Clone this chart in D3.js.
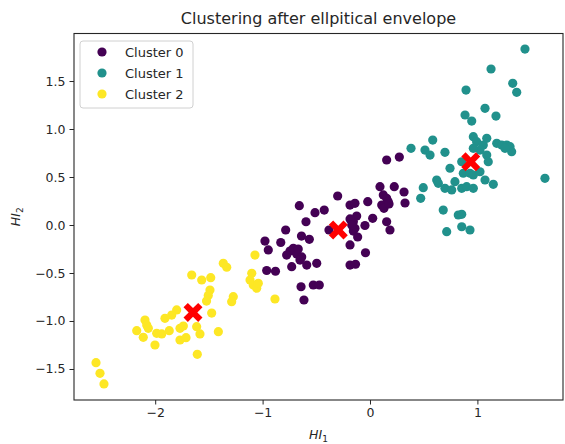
<!DOCTYPE html>
<html>
<head>
<meta charset="utf-8">
<script src="https://cdn.jsdelivr.net/npm/d3@7"></script>
<style>
  html, body { margin: 0; padding: 0; background: #fff; }
  svg { display: block; font-family: "DejaVu Sans", sans-serif; }
</style>
</head>
<body>
<svg id="chart" width="565" height="444"></svg>
<script>
// Cluster members as [HI1, HI2] pairs
const cluster0 = [
  [0.155, 0.677], [0.273, 0.708], [-0.301, 0.302], [-0.658, 0.201], [-0.512, 0.128],
  [-0.426, 0.156], [-0.596, 0.034], [-0.186, 0.208], [-0.140, 0.226], [-0.021, 0.243],
  [0.093, 0.399], [0.226, 0.399], [0.317, 0.344], [0.124, 0.313], [0.155, 0.278],
  [0.170, 0.243], [0.109, 0.208], [0.130, 0.174], [0.177, 0.219], [0.326, 0.229],
  [-0.124, 0.094], [-0.155, 0.034], [-0.186, 0.063], [-0.140, -0.034], [-0.155, -0.063],
  [-0.170, 0.000], [-0.047, -0.005], [0.025, 0.070], [0.155, 0.034], [0.186, -0.052],
  [-0.382, -0.052], [-0.785, -0.052], [-0.638, -0.115], [-0.565, -0.149], [-0.115, -0.125],
  [-0.978, -0.167], [-0.947, -0.260], [-0.831, -0.182], [-0.186, -0.208], [-0.714, -0.243],
  [-0.745, -0.271], [-0.682, -0.302], [-0.668, -0.250], [-0.776, -0.313], [-0.636, -0.333],
  [-0.652, -0.365], [-0.729, -0.434], [-0.589, -0.417], [-0.496, -0.399], [-0.042, -0.289],
  [-0.186, -0.417], [-0.135, -0.409], [-0.962, -0.474], [-0.880, -0.482], [-0.642, -0.643],
  [-0.528, -0.625], [-0.472, -0.625], [-0.615, -0.781]
];
const cluster1 = [
  [1.443, 1.833], [1.127, 1.625], [1.329, 1.476], [1.366, 1.382], [0.894, 1.406],
  [1.071, 1.216], [0.885, 1.146], [0.947, 1.083], [1.173, 1.135], [0.382, 0.799],
  [0.584, 0.885], [0.512, 0.781], [0.559, 0.729], [0.698, 0.757], [0.962, 0.920],
  [0.993, 0.868], [1.087, 0.903], [1.055, 0.833], [1.024, 0.781], [0.962, 0.799],
  [1.180, 0.851], [1.226, 0.833], [1.273, 0.833], [1.304, 0.816], [1.319, 0.764],
  [1.257, 0.799], [0.854, 0.659], [1.087, 0.729], [1.101, 0.659], [0.745, 0.591],
  [0.869, 0.539], [0.931, 0.539], [0.962, 0.521], [1.024, 0.555], [1.071, 0.469],
  [1.148, 0.424], [0.621, 0.469], [0.636, 0.434], [0.698, 0.382], [0.761, 0.365],
  [0.791, 0.451], [0.854, 0.382], [0.900, 0.399], [0.962, 0.382], [0.496, 0.389],
  [0.472, 0.278], [1.629, 0.486], [0.682, 0.156], [0.822, 0.104], [0.854, 0.111],
  [0.854, -0.018], [0.931, -0.052], [0.714, -0.070]
];
const cluster2 = [
  [-1.071, -0.313], [-1.366, -0.399], [-1.334, -0.440], [-1.660, -0.521], [-1.567, -0.573],
  [-1.483, -0.549], [-1.101, -0.503], [-1.117, -0.573], [-1.087, -0.625], [-1.055, -0.659],
  [-1.040, -0.607], [-0.885, -0.771], [-1.490, -0.677], [-1.506, -0.734], [-1.522, -0.792],
  [-1.273, -0.747], [-1.288, -0.799], [-1.474, -0.917], [-1.800, -0.885], [-1.846, -0.938],
  [-1.909, -0.972], [-2.095, -0.990], [-2.079, -1.042], [-2.064, -1.076], [-2.172, -1.101],
  [-2.111, -1.170], [-1.986, -1.128], [-1.939, -1.135], [-1.869, -1.101], [-1.769, -1.076],
  [-1.738, -1.052], [-1.769, -1.198], [-1.713, -1.174], [-1.614, -1.059], [-1.583, -1.135],
  [-1.412, -1.111], [-2.002, -1.250], [-1.608, -1.347], [-2.551, -1.434], [-2.514, -1.545],
  [-2.477, -1.656]
];
const centroids = [[-0.295, -0.052], [0.938, 0.659], [-1.648, -0.911]];

const clusterNames = ["Cluster 0", "Cluster 1", "Cluster 2"];
const clusterColors = ["#440154", "#21918c", "#fde725"];
const xTicks = [-2, -1, 0, 1];
const yTicks = [-1.5, -1.0, -0.5, 0.0, 0.5, 1.0, 1.5];
const titleText = "Clustering after ellpitical envelope";

const svg = d3.select("#chart");
const plot = { left: 74, right: 563, top: 33.5, bottom: 400 };

const x = d3.scaleLinear().domain([-2.756, 1.797]).range([plot.left, plot.right]);
const y = d3.scaleLinear().domain([-1.823, 1.995]).range([plot.bottom, plot.top]);

const ink = "#262626";

// Points, one layer per cluster
[cluster0, cluster1, cluster2].forEach((pts, i) => {
  svg.append("g")
    .selectAll("circle")
    .data(pts)
    .join("circle")
    .attr("cx", d => x(d[0]))
    .attr("cy", d => y(d[1]))
    .attr("r", 4.6)
    .attr("fill", clusterColors[i]);
});

// Cluster centres drawn as filled "X" markers
const xMarker = (s) => {
  const a = s, b = s * 0.38;
  return `M${-a},${-a + b * 1.2}L${-a + b * 1.2},${-a}L0,${-b * 1.2}L${a - b * 1.2},${-a}L${a},${-a + b * 1.2}` +
         `L${b * 1.2},0L${a},${a - b * 1.2}L${a - b * 1.2},${a}L0,${b * 1.2}L${-a + b * 1.2},${a}` +
         `L${-a},${a - b * 1.2}L${-b * 1.2},0Z`;
};
svg.append("g")
  .selectAll("path")
  .data(centroids)
  .join("path")
  .attr("transform", d => `translate(${x(d[0])},${y(d[1])})`)
  .attr("d", xMarker(9.5))
  .attr("fill", "#ff0000");

// Axes
const xAxis = svg.append("g")
  .attr("transform", `translate(0,${plot.bottom})`)
  .call(d3.axisBottom(x).tickValues(xTicks).tickSize(4.5).tickPadding(4)
    .tickFormat(d => d3.format("d")(d).replace("-", "\u2212")));
const yAxis = svg.append("g")
  .attr("transform", `translate(${plot.left},0)`)
  .call(d3.axisLeft(y).tickValues(yTicks).tickSize(4.5).tickPadding(4)
    .tickFormat(d => d3.format(".1f")(d).replace("-", "\u2212")));
[xAxis, yAxis].forEach(g => {
  g.select(".domain").remove();
  g.selectAll(".tick line").attr("stroke", ink).attr("stroke-width", 1);
  g.selectAll(".tick text").attr("fill", ink).style("font-size", "12.5px")
    .style("font-family", "DejaVu Sans, sans-serif");
});

// Frame
svg.append("rect")
  .attr("x", plot.left).attr("y", plot.top)
  .attr("width", plot.right - plot.left).attr("height", plot.bottom - plot.top)
  .attr("fill", "none").attr("stroke", ink).attr("stroke-width", 1.1);

// Title
svg.append("text")
  .attr("x", (plot.left + plot.right) / 2).attr("y", 24)
  .attr("text-anchor", "middle").attr("fill", ink)
  .style("font-size", "16px")
  .text(titleText);

// Axis labels (italic with subscript)
const xl = svg.append("text")
  .attr("x", (plot.left + plot.right) / 2).attr("y", 439)
  .attr("text-anchor", "middle").attr("fill", ink)
  .style("font-size", "12.5px").style("font-style", "italic");
xl.append("tspan").text("HI");
xl.append("tspan").attr("dy", 3).style("font-size", "9px").style("font-style", "normal").text("1");

const yl = svg.append("text")
  .attr("transform", `translate(20,${(plot.top + plot.bottom) / 2}) rotate(-90)`)
  .attr("text-anchor", "middle").attr("fill", ink)
  .style("font-size", "12.5px").style("font-style", "italic");
yl.append("tspan").text("HI");
yl.append("tspan").attr("dy", 3).style("font-size", "9px").style("font-style", "normal").text("2");

// Legend
const legend = svg.append("g").attr("transform", "translate(80,41)");
legend.append("rect")
  .attr("width", 113).attr("height", 67).attr("rx", 3)
  .attr("fill", "#fff").attr("fill-opacity", 0.8)
  .attr("stroke", "#d0d0d0").attr("stroke-width", 1);
clusterNames.forEach((name, i) => {
  const row = legend.append("g").attr("transform", `translate(0,${11 + i * 21})`);
  row.append("circle").attr("cx", 22).attr("cy", 0).attr("r", 4.6).attr("fill", clusterColors[i]);
  row.append("text").attr("x", 45).attr("y", 4.5).attr("fill", ink)
    .style("font-size", "13px").text(name);
});
</script>
</body>
</html>
